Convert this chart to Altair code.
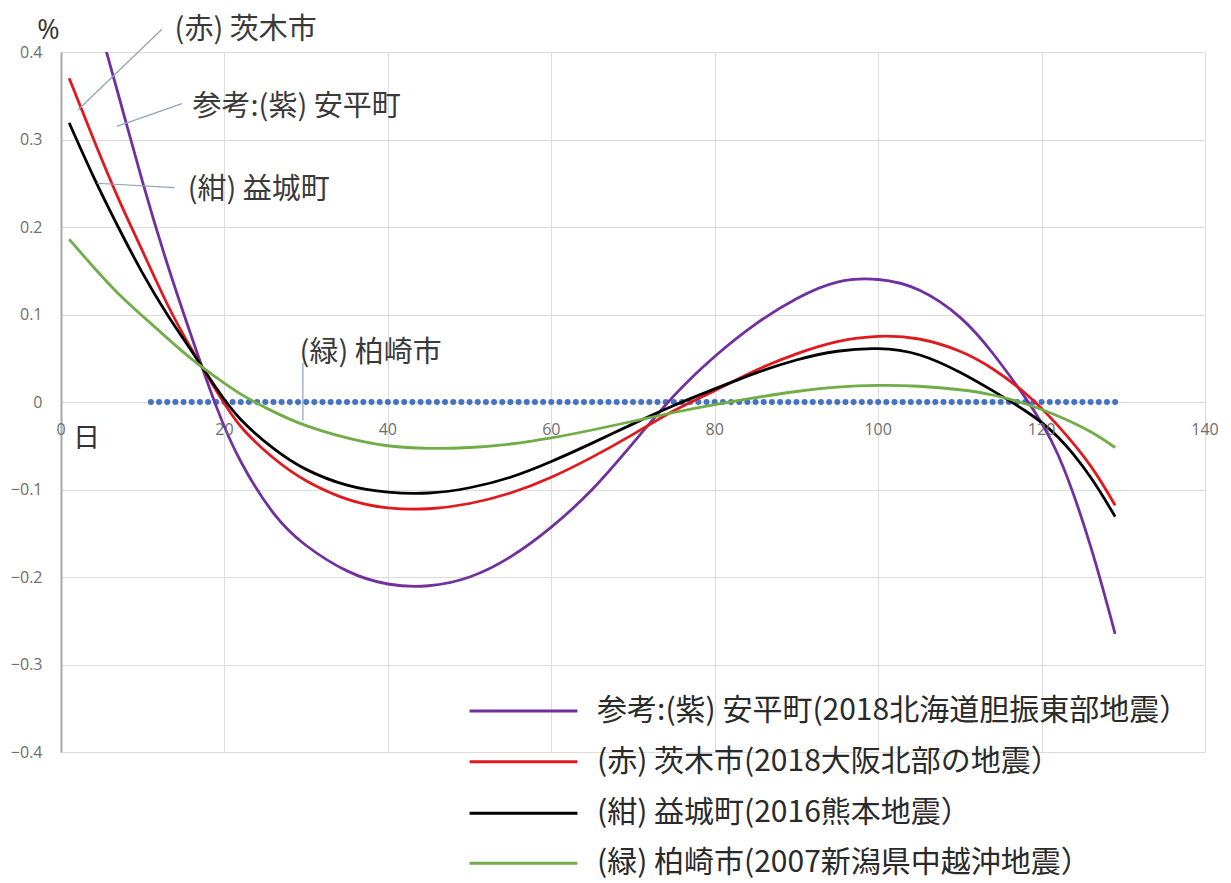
import altair as alt
import pandas as pd

# ---- curve samples (day, % change) ----
days = [1, 4, 7, 10, 13, 16, 19, 22, 26, 30, 35, 40, 45, 50, 55, 60,
        65, 70, 75, 80, 85, 90, 95, 100, 105, 110, 114, 118, 122, 126, 129]

abira = [0.560, 0.453, 0.352, 0.251, 0.158, 0.074, -0.005, -0.068, -0.127, -0.164,
         -0.193, -0.208, -0.210, -0.200, -0.177, -0.143, -0.100, -0.047, 0.007, 0.052,
         0.089, 0.118, 0.137, 0.140, 0.128, 0.097, 0.056, 0.005, -0.060, -0.165, -0.265]

ibaraki = [0.370, 0.300, 0.233, 0.172, 0.112, 0.060, 0.013, -0.028, -0.064, -0.090,
           -0.111, -0.121, -0.122, -0.116, -0.104, -0.086, -0.063, -0.037, -0.010, 0.013,
           0.036, 0.055, 0.069, 0.075, 0.072, 0.058, 0.038, 0.010, -0.027, -0.073, -0.118]

mashiki = [0.319, 0.257, 0.200, 0.147, 0.100, 0.058, 0.016, -0.020, -0.053, -0.077,
           -0.095, -0.103, -0.104, -0.098, -0.086, -0.068, -0.047, -0.025, -0.004, 0.015,
           0.033, 0.048, 0.058, 0.061, 0.054, 0.034, 0.013, -0.010, -0.040, -0.086, -0.131]

kashiwazaki = [0.186, 0.154, 0.124, 0.098, 0.073, 0.049, 0.028, 0.009, -0.011, -0.027,
               -0.041, -0.050, -0.053, -0.052, -0.048, -0.041, -0.032, -0.022, -0.012, -0.003,
               0.005, 0.012, 0.017, 0.019, 0.018, 0.014, 0.008, -0.002, -0.016, -0.034, -0.052]

# baseline series (dotted row at zero)
dot_days = list(range(11, 130))
dot_values = [0.0] * len(dot_days)

series_keys = ["abira", "ibaraki", "mashiki", "kashiwazaki"]
series_colors = ["#7030A0", "#E0191E", "#000000", "#70AD47"]
legend_labels = [
    "参考:(紫) 安平町(2018北海道胆振東部地震）",
    "(赤) 茨木市(2018大阪北部の地震）",
    "(紺) 益城町(2016熊本地震）",
    "(緑) 柏崎市(2007新潟県中越沖地震）",
]

x_ticks = [0, 20, 40, 60, 80, 100, 120, 140]
x_tick_labels = ["0", "20", "40", "60", "80", "100", "120", "140"]
y_ticks = [-0.4, -0.3, -0.2, -0.1, 0, 0.1, 0.2, 0.3, 0.4]

# in-plot callouts: text anchor and leader line ends, in (day, %) units
note_texts = ["(赤) 茨木市", "参考:(紫) 安平町", "(紺) 益城町", "(緑) 柏崎市"]
note_day = [13.9, 16.1, 15.5, 29.2]
note_val = [0.425, 0.337, 0.242, 0.056]
leader_from_day = [12.35, 14.8, 13.9, 29.6]
leader_from_val = [0.426, 0.341, 0.245, 0.045]
leader_to_day = [2.1, 6.85, 4.4, 29.6]
leader_to_val = [0.334, 0.315, 0.250, -0.021]

# legend rows placed below the zero line, in (day, %) units
legend_line_start = 50.0
legend_line_end = 63.2
legend_text_day = 65.6
legend_row_val = [-0.353, -0.411, -0.470, -0.527]

CJK = "Noto Sans CJK JP"
LATIN = "Open Sans"

# ---- tables ----
curve_rows = []
for key, vals in zip(series_keys, [abira, ibaraki, mashiki, kashiwazaki]):
    for d, v in zip(days, vals):
        curve_rows.append({"day": d, "value": v, "series": key})
curves = pd.DataFrame(curve_rows)

dots = pd.DataFrame({"day": dot_days, "value": dot_values})
xlab = pd.DataFrame({"day": x_ticks, "value": [0.0] * len(x_ticks), "label": x_tick_labels})
notes = pd.DataFrame({"day": note_day, "value": note_val, "text": note_texts})
leaders = pd.DataFrame({"day": leader_from_day, "value": leader_from_val,
                        "d2": leader_to_day, "v2": leader_to_val})
legend_df = pd.DataFrame({
    "series": series_keys,
    "label": legend_labels,
    "value": legend_row_val,
    "day": [legend_line_start] * 4,
    "d2": [legend_line_end] * 4,
    "dt": [legend_text_day] * 4,
})

x_scale = alt.Scale(domain=[0, 140], nice=False, zero=False)
y_scale = alt.Scale(domain=[-0.4, 0.4], nice=False, zero=False)
color_scale = alt.Scale(domain=series_keys, range=series_colors)

x_axis = alt.Axis(values=x_ticks, grid=True, labels=False, ticks=False, domain=False,
                  title="日", titleX=25, titleY=-314, titleAngle=0, titleAlign="center",
                  titleBaseline="middle", titleFont=CJK, titleFontSize=27,
                  titleFontWeight="normal", titleColor="#333333")
y_axis = alt.Axis(values=y_ticks, grid=True, ticks=False, domain=True,
                  domainColor="#a8a8a8", domainWidth=2,
                  labelExpr="datum.value == 0 ? '0' : format(datum.value, '.1f')",
                  labelFont=LATIN, labelFontSize=16, labelColor="#6e6e6e", labelPadding=19,
                  title="%", titleX=-13, titleY=-22, titleAngle=0, titleAlign="center",
                  titleBaseline="middle", titleFont=LATIN, titleFontSize=27,
                  titleFontWeight="normal", titleColor="#333333")

X = alt.X("day:Q", scale=x_scale, axis=x_axis)
Y = alt.Y("value:Q", scale=y_scale, axis=y_axis)

dots_layer = alt.Chart(dots).mark_circle(size=36, color="#4472C4", opacity=1).encode(x=X, y=Y)

lines_layer = alt.Chart(curves).mark_line(strokeWidth=2.8, clip=True, interpolate="natural").encode(
    x=X, y=Y,
    color=alt.Color("series:N", scale=color_scale, legend=None),
)

xlab_layer = alt.Chart(xlab).mark_text(dy=28, fontSize=16, font=LATIN, color="#6e6e6e",
                                        baseline="middle").encode(x=X, y=Y, text="label:N")

leader_layer = alt.Chart(leaders).mark_rule(color="#8EA2BE", strokeWidth=1.2).encode(
    x=X, y=Y, x2="d2:Q", y2="v2:Q",
)

notes_layer = alt.Chart(notes).mark_text(align="left", baseline="middle", fontSize=29,
                                          font=CJK, color="#3a3a3a").encode(
    x=X, y=Y, text="text:N",
)

legend_lines = alt.Chart(legend_df).mark_rule(strokeWidth=3).encode(
    x=X, x2="d2:Q", y=Y,
    color=alt.Color("series:N", scale=color_scale, legend=None),
)

legend_text = alt.Chart(legend_df).mark_text(align="left", baseline="middle", fontSize=30,
                                              font=CJK, color="#2a2a2a").encode(
    x=alt.X("dt:Q", scale=x_scale, axis=x_axis), y=Y, text="label:N",
)

chart = alt.layer(
    dots_layer, lines_layer, xlab_layer, leader_layer, notes_layer, legend_lines, legend_text
).properties(
    width=1144,
    height=700,
    autosize=alt.AutoSizeParams(type="none"),
    padding={"left": 61, "top": 52, "right": 26, "bottom": 131},
    background="white",
).configure_view(
    strokeWidth=0
).configure_axis(
    gridColor="#dcdcdc", gridWidth=1
)

chart.save("out.html", embed_options={"renderer": "svg", "actions": False})
